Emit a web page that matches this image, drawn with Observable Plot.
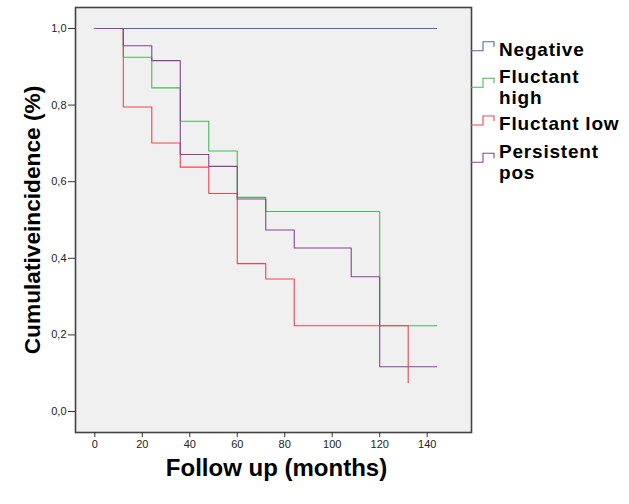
<!DOCTYPE html>
<html>
<head>
<meta charset="utf-8">
<script src="https://cdn.jsdelivr.net/npm/d3@7"></script>
<script src="https://cdn.jsdelivr.net/npm/@observablehq/plot@0.6"></script>
<style>
  html, body { margin: 0; padding: 0; background: #fff; }
  #chart { width: 629px; height: 504px; }
  svg { font-family: "Liberation Sans", Arial, sans-serif; }
</style>
</head>
<body>
<div id="chart"></div>
<script>
// Series names and colours
const seriesNames = ["Negative", "Fluctant high", "Fluctant low", "Persistent pos"];
const seriesColors = ["#5565ac", "#44bb55", "#f04455", "#84468e"];
const legendLines = [["Negative"], ["Fluctant", "high"], ["Fluctant low"], ["Persistent", "pos"]];

// Step curves: time (months) and cumulative incidence
const negTime = [0, 144];
const negValue = [1.0, 1.0];

const highTime = [0, 12, 24, 36, 48, 60, 72, 120, 144];
const highValue = [1.0, 0.925, 0.845, 0.758, 0.680, 0.559, 0.522, 0.224, 0.224];

const lowTime = [0, 12, 24, 36, 48, 60, 72, 84, 132];
const lowValue = [1.0, 0.795, 0.701, 0.638, 0.569, 0.386, 0.346, 0.224, 0.075];

const persTime = [0, 12, 24, 36, 48, 60, 72, 84, 108, 120, 144];
const persValue = [1.0, 0.955, 0.916, 0.671, 0.640, 0.555, 0.474, 0.427, 0.352, 0.117, 0.117];

const xTicks = [0, 20, 40, 60, 80, 100, 120, 140];
const yTicks = [0.0, 0.2, 0.4, 0.6, 0.8, 1.0];

const allSeries = [
  [negTime, negValue],
  [highTime, highValue],
  [lowTime, lowValue],
  [persTime, persValue]
];
const rows = [];
allSeries.forEach(([t, v], i) => {
  t.forEach((tt, j) => rows.push({series: seriesNames[i], time: tt, value: v[j]}));
});

const fmt = d => d3.format(".1f")(d).replace(".", ",");

const plot = Plot.plot({
  width: 629,
  height: 504,
  marginLeft: 75,
  marginRight: 158,
  marginTop: 7,
  marginBottom: 72,
  style: {fontFamily: "'Liberation Sans', Arial, sans-serif", fontSize: "11px", color: "#222", background: "#fff"},
  x: {domain: [-8.13, 158.66]},
  y: {domain: [-0.0548, 1.0548]},
  color: {domain: seriesNames, range: seriesColors},
  marks: [
    Plot.frame({fill: "#f0f0f0", stroke: "none"}),
    Plot.line(rows, {
      x: "time", y: "value", z: "series", stroke: "series",
      curve: "step-after", strokeWidth: 1.1
    }),
    Plot.frame({stroke: "#444", strokeWidth: 1.6}),
    Plot.axisX({ticks: xTicks, tickFormat: d => String(d), tickSize: 5, tickPadding: 3, label: null, stroke: "#333"}),
    Plot.axisY({ticks: yTicks, tickFormat: fmt, tickSize: 7, tickPadding: 2, label: null, stroke: "#333"}),
    Plot.text(["Follow up (months)"], {
      text: d => d, frameAnchor: "bottom", dy: 43.3, dx: 3, textAnchor: "middle",
      fontSize: 24, fontWeight: "bold", fill: "#000", letterSpacing: 0.5
    }),
    Plot.text(["Cumulativeincidence (%)"], {
      text: d => d, frameAnchor: "left", dx: -43, rotate: -90, textAnchor: "middle",
      fontSize: 22.7, fontWeight: "bold", fill: "#000"
    })
  ]
});

document.getElementById("chart").appendChild(plot);

// Legend (step-shaped swatches with bold labels) to the right of the frame
const svg = d3.select(plot);
const leg = svg.append("g").attr("class", "legend").attr("text-anchor", "start");
const swatchY = [50.7, 87.3, 125, 162.3];
const textY = [[49.3], [76, 97.3], [123.3], [151.7, 172.7]];
seriesNames.forEach((name, i) => {
  const y0 = swatchY[i];
  leg.append("path")
    .attr("d", `M471,${y0}H483V${y0 - 9}H494V${y0 - 4}`)
    .attr("fill", "none")
    .attr("stroke", seriesColors[i])
    .attr("stroke-width", 1.1);
  legendLines[i].forEach((line, k) => {
    leg.append("text")
      .attr("x", 499)
      .attr("y", textY[i][k])
      .attr("dy", "0.35em")
      .attr("text-anchor", "start")
      .attr("font-size", 19)
      .attr("letter-spacing", 0.8)
      .attr("font-weight", "bold")
      .attr("fill", "#000")
      .text(line);
  });
});
</script>
</body>
</html>
